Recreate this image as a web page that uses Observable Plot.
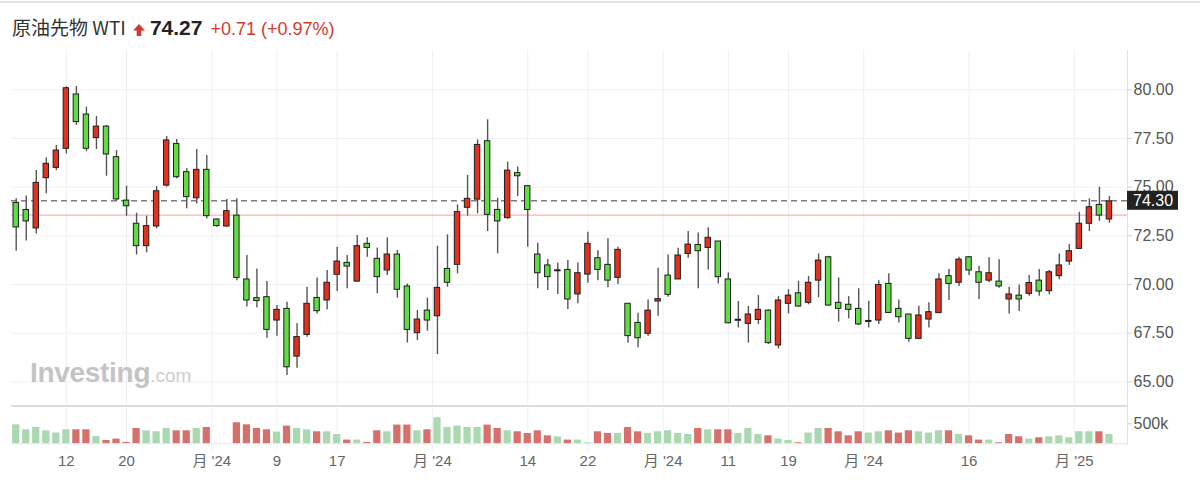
<!DOCTYPE html>
<html>
<head>
<meta charset="utf-8">
<script src="https://cdn.jsdelivr.net/npm/d3@7"></script>
<script src="https://cdn.jsdelivr.net/npm/@observablehq/plot@0.6"></script>
<style>
  html, body { margin: 0; padding: 0; background: #fff; }
  body { width: 1200px; height: 496px; position: relative; overflow: hidden; font-family: "Liberation Sans", Arial, "Noto Sans CJK JP", sans-serif; }
  #topline { position: absolute; left: 0; top: 1px; width: 1200px; height: 2px; background: #e4e4e4; }
  #header { position: absolute; left: 12px; top: 13px; height: 28px; display: flex; align-items: baseline; white-space: nowrap; }
  #header .name { font-family: "Noto Sans CJK JP", sans-serif; font-size: 19px; color: #333; }
  #header .arrow { margin-left: 7px; margin-right: 5px; position: relative; top: 1px; }
  #header .price { font-family: "Liberation Sans", Arial, sans-serif; font-weight: bold; font-size: 21px; color: #222; }
  #header .chg { font-family: "Liberation Sans", Arial, sans-serif; font-size: 18px; color: #d33a2c; margin-left: 8px; }
  #price { position: absolute; left: 0; top: 50px; }
  #vol { position: absolute; left: 0; top: 406px; }
  #sep { position: absolute; left: 11px; top: 404.7px; width: 1116px; height: 2px; background: #dcdcdc; }
  #wm { position: absolute; left: 30px; top: 360px; line-height: 26px; white-space: nowrap; font-family: "Liberation Sans", Arial, sans-serif; }
  #wm .a { font-size: 28px; font-weight: bold; color: #c4c4c4; letter-spacing: -0.3px; }
  #wm .b { font-size: 19px; color: #cdcdcd; }
</style>
</head>
<body>
<div id="topline"></div>
<div id="header">
  <span class="name">原油先物 WTI</span>
  <svg class="arrow" width="12" height="12" viewBox="0 0 12 12"><path d="M6 0 L12 6.5 L8.3 6.5 L8.3 12 L3.7 12 L3.7 6.5 L0 6.5 Z" fill="#d33a2c"/></svg>
  <span class="price">74.27</span>
  <span class="chg">+0.71 (+0.97%)</span>
</div>
<div id="price"></div>
<div id="sep"></div>
<div id="vol"></div>
<div id="wm"><span class="a">Investing</span><span class="b">.com</span></div>
<script>
// Daily OHLC (index 0 = first candle on the left)
const opens  = [74.19,73.83,72.88,75.46,75.99,76.97,79.76,78.73,77.52,78.11,76.54,74.31,73.12,71.97,72.98,75.08,77.22,75.77,74.43,75.89,
                73.34,72.98,73.54,70.26,69.30,69.35,68.15,68.75,66.30,67.41,69.31,69.18,70.50,71.11,70.15,72.09,71.32,70.72,71.54,69.90,
                67.50,68.66,68.37,70.80,71.01,73.94,74.36,77.36,73.83,73.41,75.72,75.05,71.54,70.98,70.72,70.75,69.49,70.51,71.35,71.01,
                70.34,69.01,68.03,67.47,69.13,70.46,70.26,71.57,72.03,71.88,72.21,70.26,68.18,67.98,68.18,68.66,66.87,69.01,69.55,69.06,
                70.20,71.40,69.06,68.96,68.75,68.13,68.15,70.03,68.75,68.46,67.21,68.20,68.53,70.43,70.09,71.40,70.63,70.20,70.15,69.23,
                69.43,69.52,70.20,69.66,70.43,71.18,71.83,73.12,74.09,73.34];
const highs  = [74.40,74.54,75.85,76.51,77.14,80.15,80.17,79.11,78.63,78.17,76.88,75.05,73.66,73.51,75.03,77.60,77.45,75.94,76.93,76.63,
                73.37,74.37,74.40,71.49,70.80,70.15,68.92,69.09,67.98,69.86,70.34,70.72,71.92,71.49,72.52,72.40,71.87,72.40,71.75,70.03,
                68.66,69.30,71.97,72.55,74.09,75.60,77.43,78.46,74.43,76.28,76.03,75.09,72.12,71.28,71.10,71.23,71.10,72.69,71.74,72.35,
                71.92,69.01,68.53,69.21,70.84,71.52,71.86,72.72,72.65,72.91,72.21,70.60,69.13,68.87,69.43,68.70,69.38,69.74,70.17,70.41,
                71.57,71.45,70.34,69.38,69.78,69.14,70.20,70.55,69.21,68.46,68.89,69.06,70.55,70.77,71.40,71.44,70.94,71.37,71.27,69.86,
                69.98,70.46,70.77,70.72,71.57,72.05,73.71,74.40,75.00,74.52];
const lows   = [71.71,72.23,72.60,74.66,75.85,76.71,78.17,76.83,76.93,75.56,74.28,73.51,71.52,71.63,72.86,75.00,75.43,73.89,74.14,73.37,
                72.94,72.94,70.20,68.84,68.80,67.24,67.35,65.33,65.70,67.29,68.49,68.70,69.64,69.78,70.12,71.40,69.52,70.46,69.30,67.00,
                67.12,67.60,66.40,69.86,70.55,73.51,73.63,72.72,71.58,73.34,74.52,71.92,69.78,69.69,69.49,68.72,69.01,70.07,70.20,69.83,
                70.00,66.99,66.75,67.35,68.37,69.35,70.26,71.35,69.78,70.75,70.03,67.98,67.77,66.99,67.95,66.92,66.69,68.49,68.83,68.96,
                69.32,68.89,68.07,68.24,67.89,67.77,67.95,68.54,68.03,67.04,67.21,67.77,68.53,69.18,69.90,70.46,69.23,70.09,69.81,68.49,
                68.61,69.40,69.40,69.47,70.24,70.98,71.83,72.72,73.25,73.15];
const closes = [72.93,73.24,75.22,76.20,76.88,80.08,78.34,76.97,78.11,76.68,74.37,74.02,71.97,73.00,74.79,77.40,75.51,74.49,75.89,73.51,
                73.00,73.77,70.34,69.18,69.15,67.67,68.70,65.75,67.30,69.01,68.63,70.09,71.18,70.92,71.97,71.88,70.38,71.54,69.73,67.67,
                68.20,68.15,69.83,70.09,73.72,74.40,77.17,73.58,73.24,75.85,75.56,73.83,70.58,70.38,70.69,69.23,70.58,72.09,70.75,70.20,
                71.78,67.35,67.24,68.66,69.25,69.47,71.49,72.05,71.71,72.40,70.38,68.01,68.15,68.46,68.70,66.99,69.18,69.43,68.87,70.09,
                71.23,68.92,68.75,68.70,67.95,68.08,69.98,68.54,68.32,67.21,68.41,68.58,70.26,70.03,71.28,70.72,70.09,70.58,69.90,69.49,
                69.23,70.08,69.64,70.63,70.98,71.71,73.12,73.97,73.54,74.27];
// Volume in thousands, and its colour direction (1 = up / green, 0 = down / red)
const volumes = [475,350,408,325,268,350,350,350,183,83,118,33,383,325,300,383,325,325,383,408,
                 0,0,525,475,383,350,293,443,383,350,300,300,233,93,93,33,325,300,468,468,
                 325,350,650,408,443,408,408,468,383,325,300,258,325,200,175,93,93,25,300,258,
                 258,408,300,258,300,325,258,233,383,350,350,350,258,383,233,200,118,83,25,268,
                 383,383,300,200,300,268,300,325,268,325,300,268,325,325,233,200,93,93,25,233,
                 175,118,150,175,200,150,300,300,300,233];
const volUp   = [1,1,1,1,1,1,0,0,1,0,0,0,0,1,1,1,0,0,1,0,
                 0,0,0,0,0,0,1,0,1,1,0,1,1,0,1,0,0,1,0,0,
                 1,0,1,1,1,1,1,0,0,1,0,0,0,0,1,0,1,1,0,0,
                 1,0,0,1,1,1,1,1,0,1,0,0,1,1,1,0,1,1,0,1,
                 1,0,0,0,0,1,1,0,0,0,1,1,1,0,1,0,0,1,0,0,
                 0,1,0,1,1,1,1,1,0,1];
// Axis ticks
const tickIdx    = [5, 11, 19.5, 26, 32, 41.5, 51, 57, 64.5, 71, 77, 84.5, 95, 105.5];
const tickLabels = ["12","20","月 '24","9","17","月 '24","14","22","月 '24","11","19","月 '24","16","月 '25"];
const priceTicks = [65, 67.5, 70, 72.5, 75, 77.5, 80];
const volTicks   = [500];
const lastPrice  = 74.30;
const prevClose  = 73.56;

const xDomain = [-0.47, 110.8];
const font = '"Liberation Sans", Arial, "Noto Sans CJK JP", sans-serif';

const candles = opens.map((o, i) => {
  const c = closes[i];
  let top = Math.max(o, c), bot = Math.min(o, c);
  if (top - bot < 0.05) { const m = (top + bot) / 2; top = m + 0.025; bot = m - 0.025; }
  return {i, o, h: highs[i], l: lows[i], c, top, bot, dir: c >= o ? "up" : "down"};
});
const vols = volumes.map((v, i) => ({i, v, dir: volUp[i] ? "up" : "down"}));
const labelMap = new Map(tickIdx.map((t, k) => [t, tickLabels[k]]));

const pricePlot = Plot.plot({
  width: 1200, height: 356,
  marginLeft: 11, marginRight: 73, marginTop: 0, marginBottom: 0,
  x: {domain: xDomain, axis: null},
  y: {domain: [63.736, 82.018], axis: null},
  color: {domain: ["up", "down"], range: ["#e2321f", "#62dc45"]},
  style: {fontFamily: font, fontSize: "16px", background: "transparent", overflow: "visible"},
  marks: [
    Plot.gridY(priceTicks, {stroke: "#eef0f3", strokeOpacity: 1}),
    Plot.gridX(tickIdx, {stroke: "#eef0f3", strokeOpacity: 1}),
    Plot.ruleY([prevClose], {stroke: "#f6b4b0", strokeWidth: 1.2}),
    Plot.ruleY([lastPrice], {stroke: "#7e7e7e", strokeWidth: 1.6, strokeDasharray: "6,4"}),
    Plot.ruleX(candles, {x: "i", y1: "l", y2: "h", stroke: "#555", strokeWidth: 1.4}),
    Plot.rect(candles, {x1: d => d.i - 0.27, x2: d => d.i + 0.27, y1: "bot", y2: "top", fill: "dir", stroke: "#1e1e1e", strokeWidth: 1}),
    Plot.frame({anchor: "right", stroke: "#dde2ea"}),
    Plot.axisY(priceTicks, {anchor: "right", label: null, tickFormat: d3.format(".2f"), tickSize: 4, tickPadding: 2, stroke: "#ccd3dc", fill: "#555", fontSize: 16})
  ]
});
document.getElementById("price").append(pricePlot);

// last-price badge on the right axis, positioned with the plot's own y scale
{
  const svg = d3.select(pricePlot);
  const yy = pricePlot.scale("y").apply(lastPrice);
  const x0 = 1200 - 73;
  const g = svg.append("g").attr("text-anchor", "start");
  g.append("rect").attr("x", x0).attr("y", yy - 9.5).attr("width", 51).attr("height", 19).attr("fill", "#222");
  g.append("text").attr("x", x0 + 6).attr("y", yy).attr("dy", "0.35em").attr("text-anchor", "start")
    .attr("fill", "#fff").attr("font-size", 16).attr("font-family", font).text(d3.format(".2f")(lastPrice));
}

const volPlot = Plot.plot({
  width: 1200, height: 90,
  marginLeft: 11, marginRight: 73, marginTop: 0, marginBottom: 52.7,
  x: {domain: xDomain, axis: null},
  y: {domain: [0, 932.5], axis: null},
  color: {domain: ["up", "down"], range: ["#aad8b1", "#d6706a"]},
  style: {fontFamily: font, fontSize: "15px", background: "transparent", overflow: "visible"},
  marks: [
    Plot.gridX(tickIdx, {stroke: "#eef0f3", strokeOpacity: 1}),
    Plot.rectY(vols, {x1: d => d.i - 0.36, x2: d => d.i + 0.36, y: "v", fill: "dir"}),
    Plot.ruleY([0], {stroke: "#e2e6ed"}),
    Plot.frame({anchor: "right", stroke: "#dde2ea"}),
    Plot.axisX(tickIdx, {anchor: "bottom", label: null, tickFormat: d => labelMap.get(d), tickSize: 7, tickPadding: 5, stroke: "#eef0f3", fill: "#666", fontSize: 15}),
    Plot.axisY(volTicks, {anchor: "right", label: null, tickFormat: d => d + "k", tickSize: 4, tickPadding: 2, stroke: "#ccd3dc", fill: "#555", fontSize: 16})
  ]
});
document.getElementById("vol").append(volPlot);
</script>
</body>
</html>
